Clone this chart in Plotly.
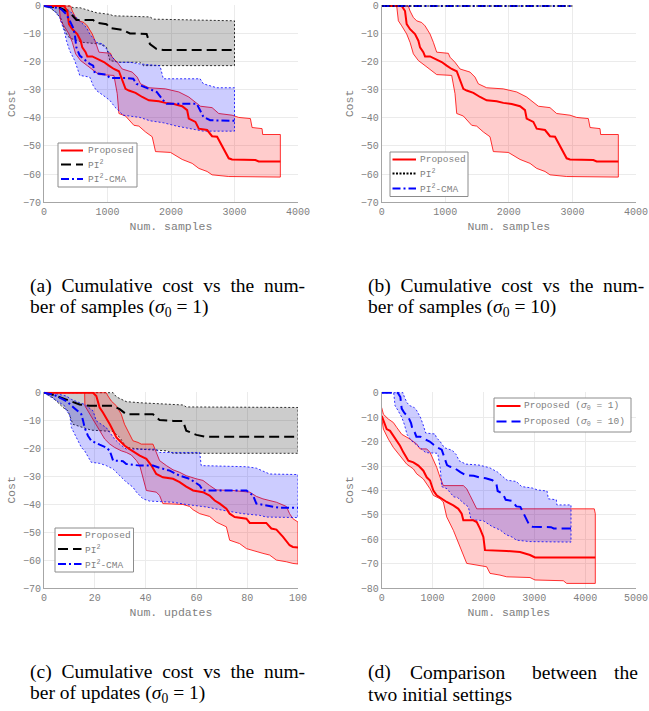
import plotly.graph_objects as go

# ---------------- data: cumulative cost vs number of samples ----------------
# Proposed (shown in (a), (b) and as sigma0=10 in (d))
prop_s_x = [0, 315, 367, 393, 446, 524, 577, 603, 655, 682, 760, 865, 944, 1022, 1101, 1180, 1232, 1284, 1337, 1442,
            1547, 1651, 1809, 1913, 2045, 2176, 2254, 2280, 2385, 2438, 2569, 2647, 2726, 2805, 2857, 2909, 2962, 3329, 3381, 3722]
prop_s_mean = [0, 0, -1.8, -6.5, -8.3, -10, -12.4, -14.8, -16.5, -18, -18, -19, -20, -21.3, -22.5, -23.3, -26.6, -29.6, -30.2, -31,
               -32.5, -33.7, -34, -34.6, -35, -35.8, -37.2, -40.2, -41.4, -43.8, -44.3, -46.5, -46.7, -50.2, -52.6, -54.4, -54.8, -55, -55.5, -55.5]
prop_s_up_x = [0, 419, 446, 498, 550, 629, 682, 760, 813, 865, 1048, 1075, 1153, 1232, 1389, 1468, 1520, 1651, 1913, 2123,
               2280, 2385, 2464, 2647, 2752, 2962, 3067, 3250, 3277, 3434, 3444, 3722]
prop_s_up = [0, 0, -1.8, -4.1, -5.3, -5.9, -7.1, -10, -13, -16.5, -16.9, -18.3, -20.1, -22.5, -23.6, -25.4, -27.8, -29.2, -29.6, -30.7,
             -32.5, -34.3, -35.8, -36.3, -38.4, -39, -39.8, -40.2, -43.4, -43.8, -45.9, -45.9]
prop_s_lo_x = [0, 236, 262, 315, 393, 446, 498, 577, 682, 786, 865, 1101, 1153, 1180, 1284, 1415, 1494, 1599, 1704, 1756,
               1992, 2176, 2333, 2438, 2569, 2647, 2909, 3722]
prop_s_lo = [0, 0, -5.3, -7.1, -10, -13, -17.1, -19.5, -21.3, -23, -24.5, -24.8, -31.3, -38.4, -39.3, -42.6, -42.9, -45, -46.7, -52,
             -52.3, -54.8, -56.2, -58, -59.1, -60.3, -60.9, -61.1]

# PI2 (samples)
pi2_s_x = [0, 247, 353, 432, 510, 774, 826, 984, 1037, 1247, 1353, 1616, 1668, 1774, 1879, 3000]
pi2_s_mean = [0, -0.6, -1.8, -3, -5, -5, -6, -6.5, -7.9, -8.6, -9.8, -10, -13.6, -15.4, -15.7, -15.7]
pi2_s_up_x = [0, 405, 458, 563, 826, 1037, 1089, 1668, 1721, 3000]
pi2_s_up = [0, 0, -0.6, -0.6, -2.4, -3, -3.5, -3.9, -4.7, -5.3]
pi2_s_lo_x = [0, 90, 195, 274, 300, 353, 405, 616, 879, 984, 1037, 1195, 1510, 1563, 3000]
pi2_s_lo = [0, -0.6, -2.4, -4.7, -7.1, -10, -11.5, -13, -13.6, -14.8, -19.5, -20.1, -20.1, -21.3, -21.3]

# PI2-CMA (samples)
cma_s_x = [0, 195, 274, 353, 405, 458, 484, 510, 563, 642, 721, 774, 800, 984, 1037, 1300, 1405, 1458, 1616, 1774,
           1879, 1932, 2405, 2458, 2510, 2616, 3000]
cma_s_mean = [0, -0.6, -1.2, -3, -5.3, -7.7, -10, -14.8, -17.7, -19.3, -20.7, -21.3, -24, -24.5, -25.7, -25.7, -26, -27.8, -29.2, -30.7,
              -33.7, -34.9, -34.9, -37.2, -39.6, -40.8, -41]
cma_s_up_x = [0, 247, 326, 405, 458, 537, 668, 721, 826, 931, 984, 1037, 1142, 1353, 1510, 1826, 1879, 2458, 2510, 2721, 3000]
cma_s_up = [0, 0, -0.6, -1.8, -3, -4.7, -7.7, -10, -13, -13.6, -15.4, -17.1, -20.1, -20.1, -20.7, -21.3, -26, -26, -27.8, -29.2, -29.2]
cma_s_lo_x = [0, 142, 247, 300, 326, 353, 405, 484, 563, 721, 774, 826, 931, 1037, 1116, 1247, 1510, 1668, 1879, 2089, 2353, 2510, 3000]
cma_s_lo = [0, -1.2, -4.1, -7.7, -9.5, -12.4, -16, -19.5, -24.8, -25.4, -28.4, -30.2, -31.9, -33.7, -36.1, -39, -39.8, -41, -41.7,
            -42.9, -44.1, -44.7, -44.7]

# (b) sigma0 = 10: PI2 and PI2-CMA stay at zero
base10_x = [0, 3000]
pi2_10_mean = [0, 0]
cma_10_mean = [0, 0]

# ---------------- data: cumulative cost vs number of updates ----------------
prop_u_x = [0, 19.3, 20.6, 21.9, 23.2, 24.5, 25.9, 27.2, 28.5, 29.8, 31.8, 33.7, 35.7, 37.7, 40.3, 42.3, 44.2, 46.8, 50.8, 53.4,
            56.0, 58.7, 62.6, 65.2, 67.2, 69.2, 71.8, 73.1, 75.1, 79.7, 81.0, 87.5, 89.5, 91.5, 94.1, 96.7, 98.0, 100]
prop_u_mean = [0, 0, -1.2, -5.3, -7.1, -8.9, -11.3, -13.6, -16, -17.2, -19, -20.2, -21.4, -22.5, -23.7, -26.1, -29.1, -30.3, -30.8, -32,
               -33.6, -35, -35.6, -36.8, -38.6, -39.7, -41.5, -43.3, -44.5, -45.1, -46.6, -46.6, -48.6, -49, -51.6, -54.6, -55.2, -55.4]
prop_u_up_x = [0, 24.5, 25.2, 26.5, 28.5, 30.4, 31.7, 33.1, 35.0, 37.0, 38.3, 42.9, 44.2, 45.5, 48.2, 50.8, 53.4, 56.0, 59.9, 62.6,
               65.2, 67.8, 74.4, 81.0, 83.6, 86.2, 91.5, 95.4, 96.7, 98.0, 100]
prop_u_up = [0, 0, -1.2, -3, -4.7, -7.7, -11.3, -13.6, -17.2, -17.8, -18.4, -18.4, -21.4, -24.3, -26.1, -27.6, -28.5, -29.7, -30.8, -31.4,
             -33.2, -34.8, -35, -35.6, -37.1, -38, -39.2, -40.7, -43.3, -45.1, -46.3]
prop_u_lo_x = [0, 16.0, 16.1, 17.3, 18.6, 20.6, 21.9, 23.9, 25.9, 27.8, 30.4, 32.4, 34.4, 36.4, 37.7, 39.0, 40.3, 44.2, 45.5, 46.8,
               54.7, 57.3, 58.7, 61.3, 65.2, 67.8, 71.8, 73.1, 77.0, 79.7, 82.3, 86.2, 88.8, 91.5, 95.4, 98.0, 100]
prop_u_lo = [0, 0, -4.7, -6.5, -8.3, -11.3, -13.6, -16.6, -18.4, -19.6, -20.8, -21.4, -22.3, -24.3, -26.1, -30.3, -35, -35.6, -36.8, -39.7,
             -40, -40.7, -41.9, -43.3, -44.3, -46.3, -48, -52.8, -54, -55.8, -56.6, -57.5, -58.1, -59.9, -60.5, -61.1, -61.3]

pi2_u_x = [0, 2.2, 4.9, 8.8, 11.4, 14.0, 18.0, 27.2, 29.8, 32.4, 42.9, 45.5, 50.8, 54.7, 56.0, 60.0, 63.9, 100]
pi2_u_mean = [0, -0.4, -1.2, -2.4, -3.2, -4.2, -4.7, -4.7, -5.9, -7.7, -7.7, -9.8, -10.1, -10.1, -13.6, -15.1, -15.8, -15.8]
pi2_u_up_x = [0, 27.2, 28.5, 32.4, 37.7, 54.7, 56.0, 100]
pi2_u_up = [0, 0, -1.5, -3.2, -3.6, -4.4, -5.1, -5.3]
pi2_u_lo_x = [0, 3.5, 7.5, 9.4, 11.4, 15.4, 18.6, 27.2, 29.8, 32.4, 37.7, 48.2, 50.8, 100]
pi2_u_lo = [0, -1.8, -5.3, -6.5, -11.3, -12.5, -13.4, -13.9, -16, -19.6, -20.2, -20.8, -21.7, -21.7]

cma_u_x = [0, 3.5, 7.5, 8.8, 11.4, 13.4, 14.7, 15.4, 16.0, 17.3, 18.6, 21.9, 24.5, 25.9, 27.2, 31.1, 32.4, 37.7, 42.9, 45.5,
           49.5, 53.4, 57.3, 61.3, 62.6, 79.7, 82.3, 83.6, 88.8, 92.8, 100]
cma_u_mean = [0, -0.6, -2.4, -3, -5.1, -6.5, -7.7, -10.1, -12.5, -15.4, -17.2, -18.6, -19.6, -20.8, -24.3, -24.5, -25.5, -26.1, -26.1, -26.9,
              -27.9, -29.7, -30.8, -33.2, -35, -35, -36.8, -39.7, -40.7, -41.2, -41.2]
cma_u_up_x = [0, 4.9, 8.8, 10.8, 14.0, 16.0, 19.3, 20.6, 24.5, 25.9, 27.8, 29.8, 32.4, 44.2, 45.5, 61.3, 61.9, 79.7, 83.6, 88.8, 100]
cma_u_up = [0, -0.4, -1.2, -2.4, -3.6, -4.2, -6.5, -10.1, -12.5, -14.2, -16.6, -18.4, -20.2, -20.2, -21.4, -21.4, -26.1, -26.5, -27,
            -29.1, -29.3]
cma_u_lo_x = [0, 4.2, 6.2, 8.1, 8.8, 10.1, 10.8, 12.7, 14.7, 16.0, 18.6, 21.9, 24.5, 27.2, 29.8, 32.4, 35.0, 36.4, 39.0, 41.6,
              50.8, 56.0, 63.9, 70.5, 78.3, 84.9, 87.5, 100]
cma_u_lo = [0, -2.4, -3.6, -4.7, -6.5, -7.7, -12.5, -16, -19.6, -20.8, -24.9, -25.3, -26.1, -27.3, -29.7, -32, -33.8, -35.6, -38, -38.8,
            -39.2, -40, -40.9, -42.1, -43.3, -43.9, -44.5, -44.7]

# ---------------- data: (d) proposed with sigma0 = 1 ----------------
prop1_x = [0, 33, 98, 164, 229, 295, 360, 426, 524, 623, 721, 819, 885, 950, 1016, 1081, 1180, 1278, 1409, 1507,
           1573, 1605, 1802, 1868, 1933, 1999, 2031, 2457, 2720, 2916, 3014, 4200]
prop1_mean = [-9.5, -11.5, -14.9, -15.6, -17.6, -19.7, -21.7, -24.4, -27.8, -28.5, -29.8, -31.9, -34.6, -35.9, -40, -42, -43.4, -44.7,
              -46.1, -47.5, -49.5, -52.2, -52.2, -52.9, -55.6, -59, -64.4, -64.7, -65.2, -66.4, -67.4, -67.4]
prop1_up_x = [0, 33, 131, 229, 295, 393, 557, 688, 754, 885, 950, 1081, 1147, 1212, 1605, 1671, 1737, 1868, 4180, 4200]
prop1_up = [-6.1, -8.8, -10.8, -12.2, -14.2, -17, -19, -21, -23, -23, -24.4, -30.5, -34.6, -38, -38, -39.3, -42, -47.5, -47.5, -49.5]
prop1_lo_x = [0, 33, 131, 229, 360, 491, 623, 688, 819, 950, 1016, 1147, 1212, 1278, 1409, 1474, 1540, 1605, 1671, 1868,
              2064, 2130, 2326, 2457, 2916, 3014, 3571, 3637, 4200]
prop1_lo = [-10.2, -14.9, -19, -22.4, -25.8, -29.2, -31.2, -33.2, -35.3, -39.3, -42, -43.4, -44.7, -50.8, -56.3, -59, -63, -66.4,
            -69.8, -70.5, -71.2, -73.9, -74.6, -75.3, -75.6, -76.6, -76.9, -78, -78]

# ---------------- text ----------------
ytitle = "Cost"
xtitle_s = "Num. samples"
xtitle_u = "Num. updates"
name_prop = "Proposed"
name_pi2 = "PI<sup>2</sup>"
name_cma = "PI<sup>2</sup>-CMA"
name_d1 = "Proposed (<i>σ</i><sub>0</sub> = 1)"
name_d10 = "Proposed (<i>σ</i><sub>0</sub> = 10)"

RED, BLACK, BLUE = "#ff0000", "#000000", "#0000ff"
FILL = {RED: "rgba(255,0,0,0.2)", BLACK: "rgba(0,0,0,0.2)", BLUE: "rgba(0,0,255,0.2)"}
MONO = "Liberation Mono, Courier New, monospace"
SERIF = "Liberation Serif, Times New Roman, serif"
W, H = 649, 711

DASH = "10px,5px"
DASHDOT = "8px,3px,2px,3px"
DOT = "2px,2px"
FINEDOT = "2px,1.5px"

fig = go.Figure()


def band(xa, ya, ux, uy, lx, ly, color, edge_dash):
    fig.add_trace(go.Scatter(
        x=list(ux) + list(lx)[::-1], y=list(uy) + list(ly)[::-1],
        xaxis=xa, yaxis=ya, mode="lines", fill="toself", fillcolor=FILL[color],
        line=dict(color=color, width=0.8, dash=edge_dash), showlegend=False, hoverinfo="skip"))


def mean(xa, ya, x, y, color, dash, name, width=2):
    fig.add_trace(go.Scatter(
        x=x, y=y, xaxis=xa, yaxis=ya, mode="lines", name=name,
        line=dict(color=color, width=width, dash=dash), showlegend=False))


# (a)
band("x", "y", pi2_s_up_x, pi2_s_up, pi2_s_lo_x, pi2_s_lo, BLACK, DOT)
band("x", "y", prop_s_up_x, prop_s_up, prop_s_lo_x, prop_s_lo, RED, "solid")
band("x", "y", cma_s_up_x, cma_s_up, cma_s_lo_x, cma_s_lo, BLUE, DOT)
mean("x", "y", pi2_s_x, pi2_s_mean, BLACK, DASH, name_pi2)
mean("x", "y", prop_s_x, prop_s_mean, RED, "solid", name_prop)
mean("x", "y", cma_s_x, cma_s_mean, BLUE, DASHDOT, name_cma)

# (b)
band("x2", "y2", prop_s_up_x, prop_s_up, prop_s_lo_x, prop_s_lo, RED, "solid")
mean("x2", "y2", prop_s_x, prop_s_mean, RED, "solid", name_prop)
mean("x2", "y2", base10_x, cma_10_mean, BLUE, DASHDOT, name_cma, 2.2)
mean("x2", "y2", base10_x, pi2_10_mean, BLACK, FINEDOT, name_pi2, 1.2)

# (c)
band("x3", "y3", pi2_u_up_x, pi2_u_up, pi2_u_lo_x, pi2_u_lo, BLACK, DOT)
band("x3", "y3", prop_u_up_x, prop_u_up, prop_u_lo_x, prop_u_lo, RED, "solid")
band("x3", "y3", cma_u_up_x, cma_u_up, cma_u_lo_x, cma_u_lo, BLUE, DOT)
mean("x3", "y3", pi2_u_x, pi2_u_mean, BLACK, DASH, name_pi2)
mean("x3", "y3", prop_u_x, prop_u_mean, RED, "solid", name_prop)
mean("x3", "y3", cma_u_x, cma_u_mean, BLUE, DASHDOT, name_cma)

# (d)
band("x4", "y4", prop1_up_x, prop1_up, prop1_lo_x, prop1_lo, RED, "solid")
band("x4", "y4", prop_s_up_x, prop_s_up, prop_s_lo_x, prop_s_lo, BLUE, DOT)
mean("x4", "y4", prop1_x, prop1_mean, RED, "solid", name_d1)
mean("x4", "y4", prop_s_x, prop_s_mean, BLUE, DASH, name_d10)

xa_dom = [44 / W, 298 / W]
xb_dom = [381.7 / W, 636 / W]
top_dom = [1 - 202 / H, 1 - 5 / H]
bot_dom = [1 - 588.3 / H, 1 - 391.7 / H]

AX = dict(showgrid=True, gridcolor="#ebebeb", gridwidth=1, zeroline=False, showline=True,
          linecolor="#a6a6a6", linewidth=1, ticks="", automargin=False, fixedrange=True,
          tickfont=dict(family=MONO, size=10, color="#808080"))


def xax(dom, rng, dtick, title, anchor):
    return dict(AX, domain=dom, range=rng, dtick=dtick, anchor=anchor,
                title=dict(text=title, font=dict(family=MONO, size=11.5, color="#808080"), standoff=4))


def yax(dom, rng, title, anchor):
    return dict(AX, domain=dom, range=rng, dtick=10, anchor=anchor,
                title=dict(text=title, font=dict(family=MONO, size=11.5, color="#808080"), standoff=4))


fig.update_layout(
    width=W, height=H, margin=dict(l=0, r=0, t=0, b=0), template="none",
    paper_bgcolor="white", plot_bgcolor="white", showlegend=False,
    xaxis=xax(xa_dom, [0, 4000], 1000, xtitle_s, "y"),
    yaxis=yax(top_dom, [-70, 0.35], ytitle, "x"),
    xaxis2=xax(xb_dom, [0, 4000], 1000, xtitle_s, "y2"),
    yaxis2=yax(top_dom, [-70, 0.35], ytitle, "x2"),
    xaxis3=xax(xa_dom, [0, 100], 20, xtitle_u, "y3"),
    yaxis3=yax(bot_dom, [-70, 0.35], ytitle, "x3"),
    xaxis4=xax(xb_dom, [0, 5000], 1000, xtitle_s, "y4"),
    yaxis4=yax(bot_dom, [-80, 0.4], ytitle, "x4"),
)


# ---------------- legends (drawn as boxes, sample lines and texts) ----------------
def px(x):
    return x / W


def py(y):
    return 1 - y / H


def legend_box(box, line_x, text_x, rows):
    x0, y0, x1, y1 = box
    fig.add_shape(type="rect", xref="paper", yref="paper", x0=px(x0), x1=px(x1), y0=py(y0), y1=py(y1),
                  line=dict(color="#8c8c8c", width=1), fillcolor="white", layer="above")
    for (yy, color, dash, text) in rows:
        fig.add_shape(type="line", xref="paper", yref="paper", x0=px(line_x[0]), x1=px(line_x[1]),
                      y0=py(yy), y1=py(yy), line=dict(color=color, width=2, dash=dash), layer="above")
        fig.add_annotation(x=px(text_x), y=py(yy), xref="paper", yref="paper", text=text, showarrow=False,
                           xanchor="left", yanchor="middle", font=dict(family=MONO, size=9.5, color="#7f7f7f"))


legend_box((58, 143, 137, 187), (61, 83), 85.5,
           [(150.5, RED, "solid", name_prop), (164.5, BLACK, DASH, name_pi2), (179, BLUE, DASHDOT, name_cma)])
legend_box((390, 152, 468, 196.5), (392.5, 416), 417.5,
           [(159.5, RED, "solid", name_prop), (173.5, BLACK, FINEDOT, name_pi2), (188.5, BLUE, DASHDOT, name_cma)])
legend_box((55, 528, 133.5, 572), (58, 81.5), 83,
           [(535, RED, "solid", name_prop), (549, BLACK, DASH, name_pi2), (564, BLUE, DASHDOT, name_cma)])
legend_box((494, 398, 631, 432), (496.5, 520.5), 522,
           [(406, RED, "solid", name_d1), (421.5, BLUE, DASH, name_d10)])

# ---------------- captions ----------------
CAP = dict(family=SERIF, size=19.5, color="black")
ES = "\u2002"  # en space: justified first lines


def cap(x, y, text, xanchor="left"):
    fig.add_annotation(x=px(x), y=py(y), xref="paper", yref="paper", text=text, showarrow=False,
                       xanchor=xanchor, yanchor="middle", font=CAP)


cap(28, 286, ES.join(["(a)", "Cumulative", "cost", "vs", "the", "num-"]))
cap(28, 308, "ber of samples (<i>σ</i><sub>0</sub> = 1)")
cap(366, 286, ES.join(["(b)", "Cumulative", "cost", "vs", "the", "num-"]))
cap(366, 308, "ber of samples (<i>σ</i><sub>0</sub> = 10)")
cap(28, 672, ES.join(["(c)", "Cumulative", "cost", "vs", "the", "num-"]))
cap(28, 694, "ber of updates (<i>σ</i><sub>0</sub> = 1)")
cap(366, 672, "(d)")
cap(458, 672, "Comparison", "center")
cap(564, 672, "between", "center")
cap(640, 672, "the", "right")
cap(366, 694, "two initial settings")

fig.write_html("out.html")
